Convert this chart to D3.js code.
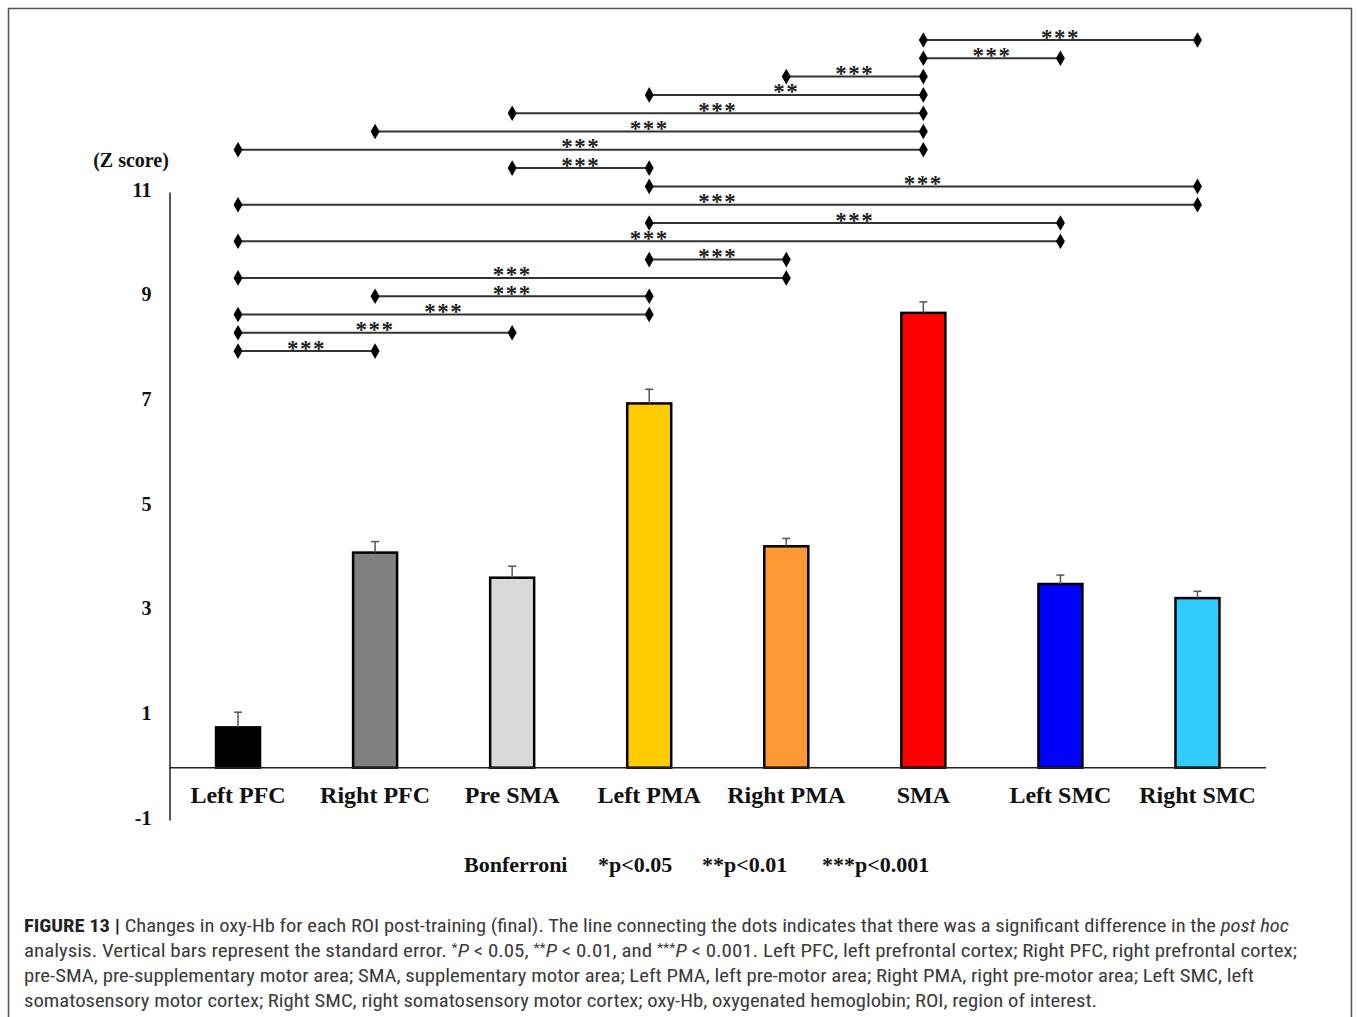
<!DOCTYPE html>
<html><head><meta charset="utf-8">
<script src="https://cdn.jsdelivr.net/npm/d3@7"></script>
<style>
html,body{margin:0;padding:0;background:#fff;}
svg{display:block;}
</style></head>
<body>
<svg id="chart" width="1357" height="1017"></svg>
<script>
// ---- data ----
const categories = ["Left PFC","Right PFC","Pre SMA","Left PMA","Right PMA","SMA","Left SMC","Right SMC"];
const means      = [0.77, 4.11, 3.63, 6.96, 4.23, 8.69, 3.51, 3.24];
const errors     = [0.29, 0.21, 0.22, 0.27, 0.15, 0.21, 0.17, 0.13];
const colors     = ["#000000","#808080","#d9d9d9","#ffcc00","#ff9933","#ff0000","#0000ff","#33ccff"];
const yTicks     = [11, 9, 7, 5, 3, 1, -1];
// significance brackets, top to bottom: [from, to, label]
const brackets = [
  ["SMA","Right SMC","***"],
  ["SMA","Left SMC","***"],
  ["Right PMA","SMA","***"],
  ["Left PMA","SMA","**"],
  ["Pre SMA","SMA","***"],
  ["Right PFC","SMA","***"],
  ["Left PFC","SMA","***"],
  ["Pre SMA","Left PMA","***"],
  ["Left PMA","Right SMC","***"],
  ["Left PFC","Right SMC","***"],
  ["Left PMA","Left SMC","***"],
  ["Left PFC","Left SMC","***"],
  ["Left PMA","Right PMA","***"],
  ["Left PFC","Right PMA","***"],
  ["Right PFC","Left PMA","***"],
  ["Left PFC","Left PMA","***"],
  ["Left PFC","Pre SMA","***"],
  ["Left PFC","Right PFC","***"]
];
const legendItems = ["Bonferroni","*p<0.05","**p<0.01","***p<0.001"];

// ---- drawing ----
const svg = d3.select("#chart");
const serif = "'Liberation Serif','Times New Roman',serif";

// outer frame
svg.append("rect").attr("x",8.5).attr("y",8.5).attr("width",1343).attr("height",1030)
  .attr("fill","none").attr("stroke","#555").attr("stroke-width",1.5);

const x = d3.scaleBand().domain(categories).range([169.5,1266]).padding(0);
const y = d3.scaleLinear().domain([-1,11]).range([820,192]);
const barW = 44;
const cx = c => x(c) + x.bandwidth()/2;

// y axis
const yAxis = d3.axisLeft(y).tickValues(yTicks).tickSize(0).tickPadding(18).tickFormat(d => String(d));
const gy = svg.append("g").attr("transform","translate(169.5,0)").call(yAxis);
gy.select(".domain").attr("stroke","#222").attr("stroke-width",1.5);
gy.selectAll("text").attr("font-family",serif).attr("font-weight","bold")
  .attr("font-size",20).attr("fill","#111").attr("dy","0.2em");

svg.append("text").attr("x",131).attr("y",167).attr("text-anchor","middle")
  .attr("font-family",serif).attr("font-weight","bold").attr("font-size",20).attr("fill","#111")
  .text("(Z score)");

// bars
svg.selectAll("rect.bar").data(categories).join("rect").attr("class","bar")
  .attr("x",c=>cx(c)-barW/2).attr("width",barW)
  .attr("y",(c,i)=>y(means[i])).attr("height",(c,i)=>y(0)-y(means[i]))
  .attr("fill",(c,i)=>colors[i]).attr("stroke","#000").attr("stroke-width",2.5);

// error bars (upper only)
categories.forEach((c,i)=>{
  const top = y(means[i]+errors[i]), base = y(means[i]);
  svg.append("line").attr("x1",cx(c)).attr("x2",cx(c)).attr("y1",base).attr("y2",top)
    .attr("stroke","#555").attr("stroke-width",1.5);
  svg.append("line").attr("x1",cx(c)-4).attr("x2",cx(c)+4).attr("y1",top).attr("y2",top)
    .attr("stroke","#555").attr("stroke-width",1.5);
});

// baseline
svg.append("line").attr("x1",169.5).attr("x2",1266).attr("y1",y(0)).attr("y2",y(0))
  .attr("stroke","#222").attr("stroke-width",1.5);

// category labels
svg.selectAll("text.cat").data(categories).join("text").attr("class","cat")
  .attr("x",c=>cx(c)).attr("y",803).attr("text-anchor","middle")
  .attr("font-family",serif).attr("font-weight","bold").attr("font-size",24).attr("fill","#111")
  .text(d=>d);

// brackets
const by0 = 40, bstep = 18.3;
const diamond = d3.symbol().type(d3.symbolDiamond).size(70);
brackets.forEach((b,i)=>{
  const yy = by0 + i*bstep, x1 = cx(b[0]), x2 = cx(b[1]);
  svg.append("line").attr("x1",x1).attr("x2",x2).attr("y1",yy).attr("y2",yy)
    .attr("stroke","#333").attr("stroke-width",2);
  [x1,x2].forEach(xx=>svg.append("path").attr("d",diamond)
    .attr("transform",`translate(${xx},${yy})`).attr("fill","#000"));
  svg.append("text").attr("x",(x1+x2)/2).attr("y",yy+4.5).attr("text-anchor","middle")
    .attr("font-family",serif).attr("font-weight","bold").attr("font-size",23)
    .attr("letter-spacing",1.5).attr("fill","#222").text(b[2]);
});

// legend
const legX = [464, 598, 702, 822];
svg.selectAll("text.leg").data(legendItems).join("text").attr("class","leg")
  .attr("x",(d,i)=>legX[i]).attr("y",872)
  .attr("font-family",serif).attr("font-weight","bold").attr("font-size",22).attr("fill","#111")
  .text(d=>d);

// caption
const cap = "'Liberation Sans Narrow','Arial Narrow','Roboto Condensed','Roboto',sans-serif";
const capLines = [
  {w:1265, parts:[["FIGURE 13 | ","b"],["Changes in oxy-Hb for each ROI post-training (final). The line connecting the dots indicates that there was a significant difference in the ",""],["post hoc","i"]]},
  {w:1273, parts:[["analysis. Vertical bars represent the standard error. ",""],["*","sup"],["P","i"],[" < 0.05, ",""],["**","sup"],["P","i"],[" < 0.01, and ",""],["***","sup"],["P","i"],[" < 0.001. Left PFC, left prefrontal cortex; Right PFC, right prefrontal cortex;",""]]},
  {w:1230, parts:[["pre-SMA, pre-supplementary motor area; SMA, supplementary motor area; Left PMA, left pre-motor area; Right PMA, right pre-motor area; Left SMC, left",""]]},
  {w:1073, parts:[["somatosensory motor cortex; Right SMC, right somatosensory motor cortex; oxy-Hb, oxygenated hemoglobin; ROI, region of interest.",""]]}
];
capLines.forEach((ln,i)=>{
  const t = svg.append("text").attr("x",24).attr("y",932+i*25)
    .attr("font-family",cap).attr("font-size",17.5).attr("fill","#3a3a3a")
    .attr("textLength",ln.w).attr("lengthAdjust","spacingAndGlyphs");
  ln.parts.forEach(p=>{
    const ts = t.append("tspan").text(p[0]);
    if(p[1]==="b") ts.attr("font-weight","bold").attr("fill","#222");
    if(p[1]==="i") ts.attr("font-style","italic");
    if(p[1]==="sup") ts.attr("font-size",12).attr("dy",-5);
    if(p[1]==="i" && i===1) ts.attr("dy",5);
  });
});
</script>
</body></html>
